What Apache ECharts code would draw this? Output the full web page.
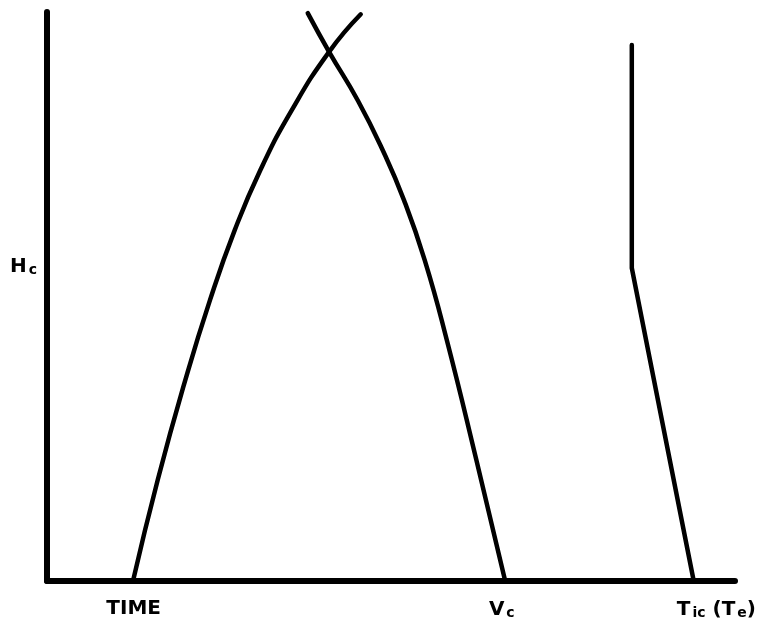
<!DOCTYPE html>
<html>
<head>
<meta charset="utf-8">
<script src="https://cdn.jsdelivr.net/npm/echarts@6/dist/echarts.min.js"></script>
<style>
  html, body { margin: 0; padding: 0; background: #fff; }
  #chart { width: 762px; height: 627px; }
</style>
</head>
<body>
<div id="chart"></div>
<script>
// Rising branch: from the TIME foot up through the crossing
const risingCurve = [
  [12.5, 0], [16.1, 17.8], [20.1, 35.3], [23.7, 49.4], [27.3, 61.7],
  [31.0, 72.2], [35.6, 82.8], [41.0, 93.0], [45.6, 99.6]
];
// Falling branch: from above the crossing down to the Vc foot
const fallingCurve = [
  [37.9, 99.8], [41.0, 93.0], [45.2, 84.4], [48.8, 75.7], [51.9, 66.9],
  [54.9, 56.4], [58.1, 42.4], [62.4, 21.3], [66.6, 0]
];
// Temperature trace: vertical segment then a straight drop to the axis
const tempTrace = [
  [85.0, 94.2], [85.0, 55.0], [94.0, 0]
];

// Axis tick positions and their labels
const xTickValues = [12.6, 66.1, 97.3];
const xTickLabels = ['TIME', 'V{sub|c}', 'T{sub|ic} (T{sub|e})'];
const yAxisLabel = 'H{sub|c}';

const labelFont = {
  fontFamily: 'DejaVu Sans',
  fontWeight: 'bold',
  fontSize: 20,
  color: '#000'
};
const richSub = {
  sub: {
    fontFamily: 'DejaVu Sans',
    fontWeight: 'bold',
    fontSize: 14,
    color: '#000',
    padding: [7, 0, 0, 2]
  }
};

const chart = echarts.init(document.getElementById('chart'), null, { renderer: 'canvas' });

function curveSeries(data, smooth) {
  return {
    type: 'line',
    data: data,
    smooth: smooth,
    showSymbol: false,
    symbol: 'none',
    lineStyle: { color: '#000', width: 4.5, cap: 'round', join: 'round' },
    silent: true
  };
}

chart.setOption({
  animation: false,
  backgroundColor: '#fff',
  grid: { left: 47, right: 27, top: 12, bottom: 46 },
  xAxis: {
    type: 'value',
    min: 0,
    max: 100,
    axisLine: { show: true, lineStyle: { color: '#000', width: 6 } },
    axisTick: { show: false },
    splitLine: { show: false },
    axisLabel: {
      customValues: xTickValues,
      margin: 18,
      formatter: function (v) {
        const i = xTickValues.indexOf(v);
        return i >= 0 ? xTickLabels[i] : '';
      },
      ...labelFont,
      rich: richSub
    }
  },
  yAxis: {
    type: 'value',
    min: 0,
    max: 100,
    axisLine: { show: true, lineStyle: { color: '#000', width: 6 } },
    axisTick: { show: false },
    axisLabel: { show: false },
    splitLine: { show: false },
    name: yAxisLabel,
    nameLocation: 'middle',
    nameRotate: 0,
    nameGap: 10,
    nameTextStyle: { ...labelFont, rich: richSub, padding: [0, 0, 60, 0] }
  },
  series: [
    curveSeries(risingCurve, 0.5),
    curveSeries(fallingCurve, 0.5),
    curveSeries(tempTrace, false)
  ]
});
</script>
</body>
</html>
